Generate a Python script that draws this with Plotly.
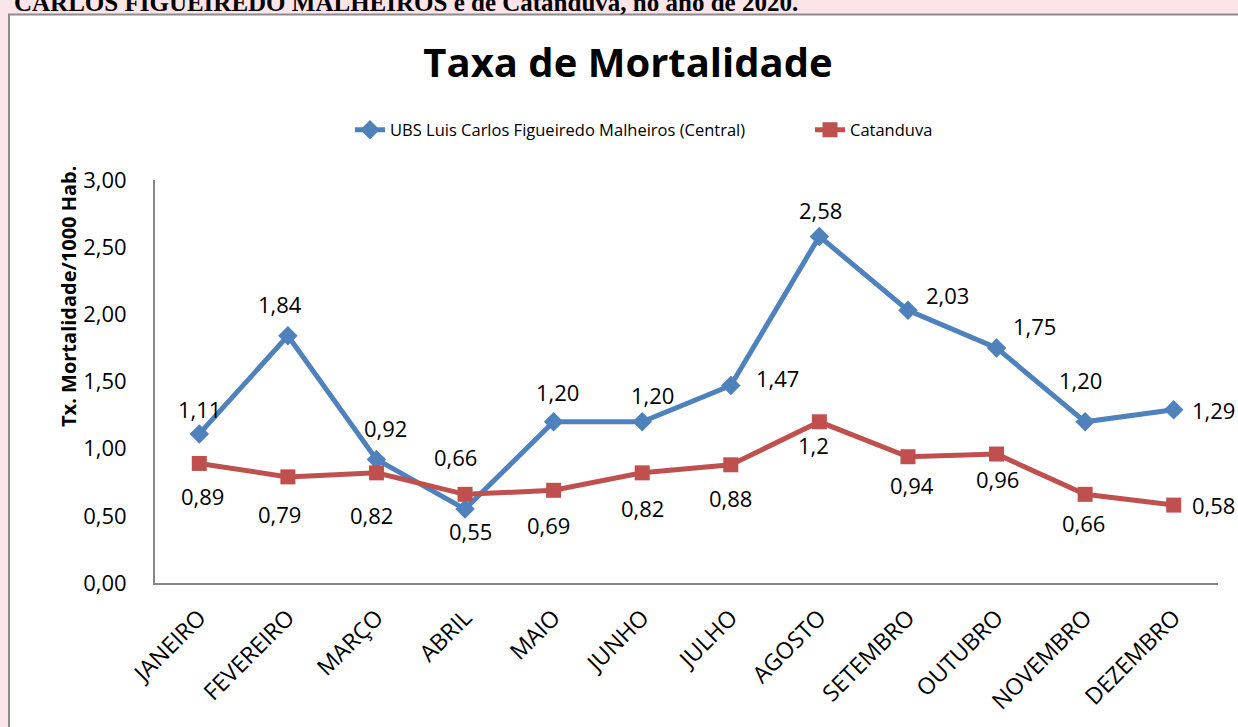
import plotly.graph_objects as go

# ---------------- data ----------------
months = ["JANEIRO", "FEVEREIRO", "MARÇO", "ABRIL", "MAIO", "JUNHO", "JULHO",
          "AGOSTO", "SETEMBRO", "OUTUBRO", "NOVEMBRO", "DEZEMBRO"]
ubs_values = [1.11, 1.84, 0.92, 0.55, 1.20, 1.20, 1.47, 2.58, 2.03, 1.75, 1.20, 1.29]
ubs_labels = ["1,11", "1,84", "0,92", "0,55", "1,20", "1,20", "1,47", "2,58", "2,03", "1,75", "1,20", "1,29"]
cat_values = [0.89, 0.79, 0.82, 0.66, 0.69, 0.82, 0.88, 1.2, 0.94, 0.96, 0.66, 0.58]
cat_labels = ["0,89", "0,79", "0,82", "0,66", "0,69", "0,82", "0,88", "1,2", "0,94", "0,96", "0,66", "0,58"]
y_ticks = [0, 0.5, 1.0, 1.5, 2.0, 2.5, 3.0]
y_tick_text = ["0,00", "0,50", "1,00", "1,50", "2,00", "2,50", "3,00"]

# label offsets in pixels (dx right, dy up) - styling only
ubs_off = [(0, 25), (-8, 32), (9, 31), (5, -22), (4, 30), (10, 27), (47, 8),
           (1, 26), (40, 15), (38, 22), (-5, 42), (40, 0)]
cat_off = [(3, -33), (-8, -37), (-5, -42), (-10, 37), (-5, -35), (0, -35), (0, -33),
           (-6, -23), (4, -28), (1, -25), (-2, -29), (40, 0)]

BLUE = "#4F81BD"
RED = "#C0504D"
FONT = "Open Sans"

W, H = 1238, 727
L, R, T, B = 155, 20, 180, 144
PW, PH = W - L - R, H - T - B


def px(xp):
    return (xp - L) / PW


def py(yp):
    return (H - B - yp) / PH


fig = go.Figure()
fig.add_trace(go.Scatter(
    x=months, y=ubs_values, mode="lines+markers",
    name="UBS Luis Carlos Figueiredo Malheiros (Central)",
    line=dict(color=BLUE, width=5),
    marker=dict(symbol="diamond", size=15, color=BLUE),
))
fig.add_trace(go.Scatter(
    x=months, y=cat_values, mode="lines+markers",
    name="Catanduva",
    line=dict(color=RED, width=5),
    marker=dict(symbol="square", size=15, color=RED),
))

annotations = []
for m, v, t, (dx, dy) in zip(months, ubs_values, ubs_labels, ubs_off):
    annotations.append(dict(x=m, y=v, xref="x", yref="y", text=t, showarrow=False,
                            xshift=dx, yshift=dy, font=dict(family=FONT, size=22, color="black")))
for m, v, t, (dx, dy) in zip(months, cat_values, cat_labels, cat_off):
    annotations.append(dict(x=m, y=v, xref="x", yref="y", text=t, showarrow=False,
                            xshift=dx, yshift=dy, font=dict(family=FONT, size=22, color="black")))

# y axis title
annotations.append(dict(x=px(68), y=py(297), xref="paper", yref="paper",
                        xanchor="center", yanchor="middle",
                        text="<b>Tx. Mortalidade/1000 Hab.</b>", textangle=-90,
                        showarrow=False, font=dict(family=FONT, size=20, color="black")))
# cut-off caption on top of page
annotations.append(dict(x=px(12), y=py(3), xref="paper", yref="paper", xanchor="left",
                        yanchor="middle",
                        text="<b>CARLOS FIGUEIREDO MALHEIROS e de Catanduva, no ano de 2020.</b>",
                        showarrow=False, font=dict(family="Liberation Serif", size=25, color="black")))

shapes = [dict(type="rect", xref="paper", yref="paper", layer="below",
               x0=px(9), x1=px(1260), y0=py(760), y1=py(14.5),
               fillcolor="white", line=dict(color="#8c8c8c", width=2))]

fig.update_layout(
    width=W, height=H,
    margin=dict(l=L, r=R, t=T, b=B, autoexpand=False),
    paper_bgcolor="#fce5e8",
    plot_bgcolor="white",
    title=dict(text="<b>Taxa de Mortalidade</b>", x=628 / W, xanchor="center",
               y=1 - 63 / H, yanchor="middle",
               font=dict(family=FONT, size=40, color="black")),
    showlegend=True,
    legend=dict(orientation="h", x=px(350), xanchor="left", y=py(130), yanchor="middle",
                entrywidth=415, entrywidthmode="pixels",
                font=dict(family=FONT, size=16.5, color="black"), bgcolor="rgba(0,0,0,0)"),
    xaxis=dict(type="category", range=[-0.5, 11.5], tickangle=-45, showgrid=False,
               showline=True, linecolor="#868686", linewidth=2, ticks="",
               ticklabelstandoff=10, automargin=False,
               tickfont=dict(family=FONT, size=23, color="black")),
    yaxis=dict(range=[0, 3], tickvals=y_ticks, ticktext=y_tick_text, showgrid=False,
               showline=True, linecolor="#868686", linewidth=2, ticks="",
               ticklabelstandoff=22, zeroline=False, automargin=False,
               tickfont=dict(family=FONT, size=22, color="black")),
    annotations=annotations,
    shapes=shapes,
)

fig.write_html("out.html", config={"displayModeBar": False},
               post_script="document.body.style.margin='0';")
